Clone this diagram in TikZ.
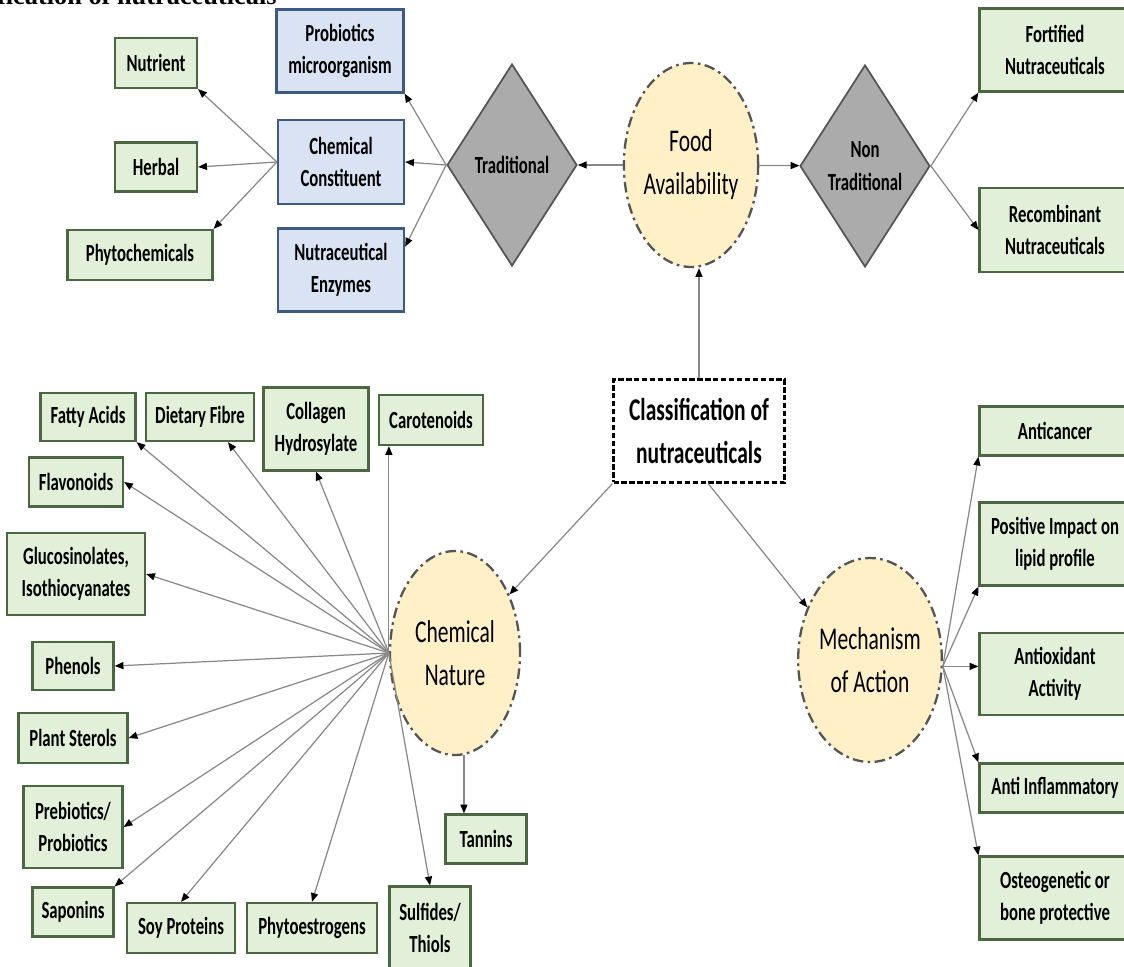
\documentclass[tikz,border=0pt]{standalone}
\usepackage{fontspec}
\usepackage{tikz}
\usetikzlibrary{arrows.meta, positioning, shapes.geometric, calc}

\newfontfamily\boxfont{Carlito}[FakeStretch=0.68]
\newfontfamily\headfont{Liberation Serif}

\definecolor{leaffill}{HTML}{E2EFD9}
\definecolor{leafline}{HTML}{4A6741}
\definecolor{subfill}{HTML}{DAE3F3}
\definecolor{subline}{HTML}{3E5A80}
\definecolor{gatefill}{HTML}{ABABAB}
\definecolor{gateline}{HTML}{555555}
\definecolor{hubfill}{HTML}{FFF0C8}
\definecolor{hubline}{HTML}{555555}
\definecolor{arrowgray}{HTML}{888888}

\begin{document}
\begin{tikzpicture}[
    x=0.02cm, y=-0.02cm,
    leaf/.style={rectangle, draw=leafline, line width=1.3pt, fill=leaffill,
                 align=center, inner sep=0pt,
                 font=\boxfont\bfseries\fontsize{14}{18.5}\selectfont},
    sub/.style={leaf, draw=subline, fill=subfill},
    gate/.style={diamond, draw=gateline, line width=1pt, fill=gatefill,
                 align=center, inner sep=0pt,
                 minimum width=2.6cm, minimum height=4.04cm,
                 font=\boxfont\bfseries\fontsize{14}{18.5}\selectfont},
    hub/.style={ellipse, draw=hubline, line width=1.3pt, fill=hubfill,
                dash pattern=on 6pt off 2.5pt on 1.5pt off 2.5pt,
                align=center, inner sep=0pt,
                minimum width=2.6cm, minimum height=4.08cm,
                font=\boxfont\fontsize{18}{24.5}\selectfont},
    root/.style={rectangle, draw=black, line width=1.3pt,
                 dash pattern=on 3pt off 1.5pt, fill=white,
                 align=center, inner sep=0pt,
                 minimum width=3.42cm, minimum height=2.06cm,
                 font=\boxfont\bfseries\fontsize{18}{25}\selectfont},
    arrow/.style={-{Triangle[length=5pt, width=4pt, color=black]},
                  draw=arrowgray, line width=0.7pt}
]
    \clip (0,0) rectangle (1124,966);
    \fill[white] (0,0) rectangle (1124,966);

    \node[anchor=base east, inner sep=0pt,
          font=\headfont\bfseries\fontsize{15}{18}\selectfont] (heading) at (277,5)
        {Classification of nutraceuticals};

    % food availability branch
    \node[leaf, minimum width=1.64cm, minimum height=1cm] (nutrient) at (156,63) {Nutrient};
    \node[leaf, minimum width=1.64cm, minimum height=0.98cm] (herbal) at (156,167) {Herbal};
    \node[leaf, minimum width=2.9cm, minimum height=1cm] (phyto) at (140,255) {Phytochemicals};

    \node[sub, minimum width=2.54cm, minimum height=1.66cm] (probio) at (340,51)
        {Probiotics\\microorganism};
    \node[sub, minimum width=2.52cm, minimum height=1.68cm] (chemcon) at (341,162)
        {Chemical\\Constituent};
    \node[sub, minimum width=2.52cm, minimum height=1.66cm] (enzymes) at (341,270)
        {Nutraceutical\\Enzymes};

    \node[gate] (trad) at (512,165) {Traditional};
    \node[hub] (food) at (691,165) {Food\\Availability};
    \node[gate] (nontrad) at (865,166) {Non\\Traditional};

    \node[leaf, minimum width=3.02cm, minimum height=1.66cm] (fortified) at (1055,50)
        {Fortified\\Nutraceuticals};
    \node[leaf, minimum width=3.02cm, minimum height=1.68cm] (recomb) at (1055,230)
        {Recombinant\\Nutraceuticals};

    \node[root] (root) at (699,431) {Classification of\\nutraceuticals};

    % chemical nature branch
    \node[hub] (chemnat) at (455,653) {Chemical\\Nature};

    \node[leaf, minimum width=1.9cm, minimum height=0.96cm] (fatty) at (88,417) {Fatty Acids};
    \node[leaf, minimum width=2.16cm, minimum height=0.96cm] (dietary) at (200,417) {Dietary Fibre};
    \node[leaf, minimum width=2.1cm, minimum height=1.66cm] (collagen) at (316,429)
        {Collagen\\Hydrosylate};
    \node[leaf, minimum width=2.08cm, minimum height=1cm] (carot) at (431,420) {Carotenoids};
    \node[leaf, minimum width=1.88cm, minimum height=0.98cm] (flavon) at (76,482) {Flavonoids};
    \node[leaf, minimum width=2.76cm, minimum height=1.64cm] (gluco) at (76,574)
        {Glucosinolates,\\Isothiocyanates};
    \node[leaf, minimum width=1.62cm, minimum height=0.96cm] (phenols) at (73,666) {Phenols};
    \node[leaf, minimum width=2.18cm, minimum height=1cm] (sterols) at (73,738) {Plant Sterols};
    \node[leaf, minimum width=1.98cm, minimum height=1.64cm] (prebio) at (73,827)
        {Prebiotics/\\Probiotics};
    \node[leaf, minimum width=1.62cm, minimum height=0.98cm] (saponins) at (73,912) {Saponins};
    \node[leaf, minimum width=2.16cm, minimum height=1cm] (soy) at (181,928) {Soy Proteins};
    \node[leaf, minimum width=2.6cm, minimum height=1cm] (phytoest) at (312,928) {Phytoestrogens};
    \node[leaf, minimum width=1.62cm, minimum height=1.66cm] (sulfides) at (430,928)
        {Sulfides/\\Thiols};
    \node[leaf, minimum width=1.62cm, minimum height=0.98cm] (tannins) at (486,839) {Tannins};

    % mechanism branch
    \node[hub] (mech) at (870,660) {Mechanism\\of Action};

    \node[leaf, minimum width=3.02cm, minimum height=0.98cm] (anticancer) at (1055,431) {Anticancer};
    \node[leaf, minimum width=3.02cm, minimum height=1.66cm] (lipid) at (1055,544)
        {Positive Impact on\\lipid profile};
    \node[leaf, minimum width=3.02cm, minimum height=1.64cm] (antiox) at (1055,674)
        {Antioxidant\\Activity};
    \node[leaf, minimum width=3.02cm, minimum height=0.98cm] (antiinfl) at (1055,788) {Anti Inflammatory};
    \node[leaf, minimum width=3.02cm, minimum height=1.66cm] (osteo) at (1055,898)
        {Osteogenetic or\\bone protective};

    % connectors
    \draw[arrow] (root) -- (root |- food.south);
    \draw[arrow] (root.south west) -- (chemnat);
    \draw[arrow] (root.-80) -- (mech.140);

    \draw[arrow] (food) -- (trad);
    \draw[arrow] (food) -- (nontrad);
    \draw[arrow] (trad.west) -- (probio.south east);
    \draw[arrow] (trad.west) -- (chemcon.east);
    \draw[arrow] (trad.west) -- (enzymes.20);
    \draw[arrow] (chemcon.west) -- (nutrient.south east);
    \draw[arrow] (chemcon.west) -- (herbal.east);
    \draw[arrow] (chemcon.west) -- (phyto.north east);
    \draw[arrow] (nontrad.east) -- (fortified.south west);
    \draw[arrow] (nontrad.east) -- (recomb.west);

    \foreach \leafname/\spot in {fatty/south east, dietary/-42, collagen/south,
        flavon/east, gluco/east, phenols/east, sterols/east, prebio/east,
        saponins/north east, soy/north, phytoest/north, sulfides/north}
        \draw[arrow] (chemnat.west) -- (\leafname.\spot);
    \draw[arrow] (chemnat.west) -- (chemnat.west |- carot.south);
    \draw[arrow] (chemnat.-85) -- (chemnat.-85 |- tannins.north);

    \coordinate (mhub) at (mech.-5);
    \foreach \leafname/\spot in {anticancer/south west, lipid/south west,
        antiinfl/north west, osteo/north west}
        \draw[arrow] (mhub) -- (\leafname.\spot);
    \draw[arrow] (mhub) -- (mhub -| antiox.west);
\end{tikzpicture}
\end{document}
